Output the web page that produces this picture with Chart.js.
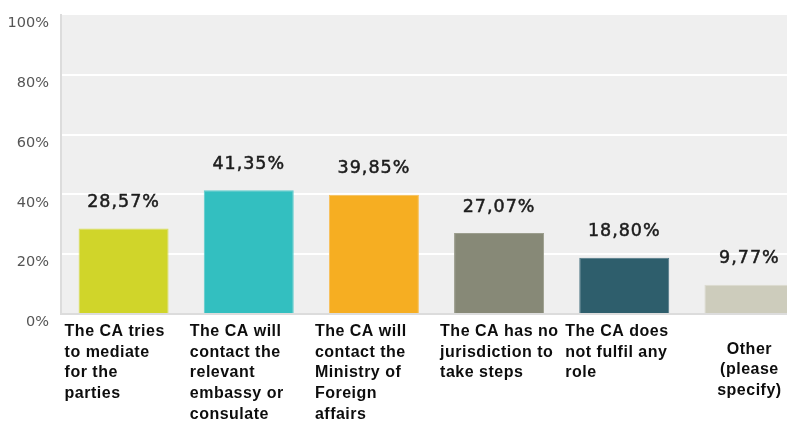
<!DOCTYPE html>
<html>
<head>
<meta charset="utf-8">
<script src="https://cdn.jsdelivr.net/npm/chart.js@4/dist/chart.umd.min.js"></script>
<style>
  html, body { margin: 0; padding: 0; background: #ffffff; overflow: hidden; }
  #wrap { position: relative; width: 812px; height: 421px; }
</style>
</head>
<body>
<div id="wrap"><canvas id="chart"></canvas></div>
<script>
// Survey answers: what the competent authority (CA) does
const categories = [
  ['The CA tries', 'to mediate', 'for the', 'parties'],
  ['The CA will', 'contact the', 'relevant', 'embassy or', 'consulate'],
  ['The CA will', 'contact the', 'Ministry of', 'Foreign', 'affairs'],
  ['The CA has no', 'jurisdiction to', 'take steps'],
  ['The CA does', 'not fulfil any', 'role'],
  ['Other', '(please', 'specify)']
];
const shares = [28.57, 41.35, 39.85, 27.07, 18.80, 9.77];
const barColors = ['#d0d52a', '#33bfc0', '#f6ae22', '#878977', '#2e5e6c', '#cdccbc'];
const barEdges = ['#dade5a', '#5ccccc', '#f8c05a', '#9c9e8e', '#4d7684', '#dcdbcf'];
const yTicks = [0, 20, 40, 60, 80, 100];

const fmtShare = v => v.toFixed(2).replace('.', ',') + '%';

// Grey plot background behind the grid
const plotBackground = {
  id: 'plotBackground',
  beforeDraw(chart) {
    const { ctx, chartArea: a } = chart;
    ctx.save();
    ctx.fillStyle = '#efefef';
    ctx.fillRect(a.left, a.top, a.right - a.left, a.bottom - a.top);
    ctx.restore();
  }
};

// Value above each bar
const valueLabels = {
  id: 'valueLabels',
  afterDatasetsDraw(chart) {
    const { ctx } = chart;
    const meta = chart.getDatasetMeta(0);
    ctx.save();
    ctx.font = '17.5px "DejaVu Sans"';
    ctx.letterSpacing = '1px';
    ctx.fillStyle = '#1c1c1c';
    ctx.strokeStyle = '#1c1c1c';
    ctx.lineWidth = 0.5;
    ctx.textAlign = 'center';
    ctx.textBaseline = 'alphabetic';
    meta.data.forEach((bar, i) => {
      const t = fmtShare(shares[i]);
      ctx.fillText(t, bar.x, bar.y - 21.5);
      ctx.strokeText(t, bar.x, bar.y - 21.5);
    });
    ctx.restore();
  }
};

// Wrapped category captions below the axis
const categoryCaptions = {
  id: 'categoryCaptions',
  afterDraw(chart) {
    const { ctx, scales: { x }, chartArea: a } = chart;
    const lineH = 20.7;
    const maxLines = 5;
    ctx.save();
    ctx.font = 'bold 16px "Liberation Sans", Arial, sans-serif';
    ctx.letterSpacing = '0.5px';
    ctx.fillStyle = '#0d0d0d';
    ctx.textBaseline = 'alphabetic';
    categories.forEach((lines, i) => {
      const cx = x.getPixelForValue(i);
      const centered = i === categories.length - 1;
      const shift = centered ? (maxLines - lines.length) / 2 - 0.15 : 0;
      ctx.textAlign = centered ? 'center' : 'left';
      const tx = centered ? cx : cx - 59;
      lines.forEach((line, j) => {
        ctx.fillText(line, tx, a.bottom + 22 + (j + shift) * lineH);
      });
    });
    ctx.restore();
  }
};

new Chart(document.getElementById('chart'), {
  type: 'bar',
  data: {
    labels: categories.map(l => l.join(' ')),
    datasets: [{
      data: shares,
      backgroundColor: barColors,
      borderColor: barEdges,
      borderWidth: 1,
      borderSkipped: 'start',
      barPercentage: 0.719,
      categoryPercentage: 1
    }]
  },
  options: {
    responsive: true,
    maintainAspectRatio: false,
    animation: false,
    layout: { padding: { top: 15, right: 0, bottom: 0, left: 0 } },
    plugins: {
      legend: { display: false },
      tooltip: { enabled: false }
    },
    scales: {
      x: {
        ticks: { display: false },
        grid: { display: false },
        border: { display: true, color: '#dcdcdc', width: 2 },
        afterFit(scale) { scale.height = 107; }
      },
      y: {
        min: 0,
        max: 100,
        afterBuildTicks(scale) { scale.ticks = yTicks.map(v => ({ value: v })); },
        ticks: {
          callback: v => v + '%',
          font: { family: '"DejaVu Sans"', size: 14.5 },
          color: '#555555',
          padding: 12,
          labelOffset: 8.5
        },
        grid: {
          drawTicks: false,
          lineWidth: 2,
          color: ctx => (ctx.tick && (ctx.tick.value === 0 || ctx.tick.value === 100)) ? 'rgba(0,0,0,0)' : '#ffffff'
        },
        border: { display: true, color: '#dcdcdc', width: 2 },
        afterFit(scale) {
          scale.width = 61;
          scale.paddingTop = 0;
          scale.paddingBottom = 0;
        }
      }
    }
  },
  plugins: [plotBackground, valueLabels, categoryCaptions]
});
</script>
</body>
</html>
